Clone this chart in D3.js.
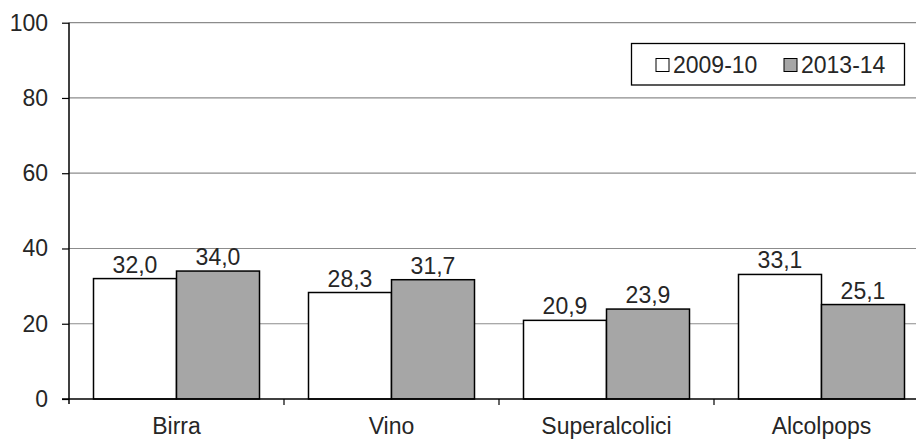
<!DOCTYPE html>
<html><head><meta charset="utf-8">
<script src="https://cdn.jsdelivr.net/npm/d3@7"></script>
<style>body{margin:0;background:#fff}svg{display:block;font-family:"Liberation Sans",Arial,sans-serif}</style>
</head><body><svg id="c" width="916" height="439"></svg>
<script>
const categories = ["Birra","Vino","Superalcolici","Alcolpops"];
const seriesNames = ["2009-10","2013-14"];
const values2009 = [32.0,28.3,20.9,33.1];
const values2013 = [34.0,31.7,23.9,25.1];
const yTicks = [0,20,40,60,80,100];
const colors = ["#ffffff","#a6a6a6"];

const svg = d3.select("#c");
const x0 = 69, x1 = 929, yTop = 22.7, yBot = 399;
const x = d3.scaleBand().domain(categories).range([x0,x1]).paddingInner(0).paddingOuter(0);
const inner = d3.scaleBand().domain(seriesNames).range([24.5, x.bandwidth()-24.5]);
const y = d3.scaleLinear().domain([0,100]).range([yBot,yTop]);
const fs = 23;
const tc = "#262626";

// gridlines
svg.append("g").selectAll("line").data(yTicks.filter(d=>d>0)).join("line")
  .attr("x1",x0).attr("x2",916).attr("y1",d=>y(d)).attr("y2",d=>y(d))
  .attr("stroke","#8c8c8c").attr("stroke-width",1.2);

// y axis
const yAxis = d3.axisLeft(y).tickValues(yTicks).tickSize(7).tickPadding(14);
const gy = svg.append("g").attr("transform",`translate(${x0},0)`).call(yAxis);
gy.select(".domain").remove();
gy.selectAll("line").attr("stroke","#000").attr("stroke-width",1.2);
gy.selectAll("text").attr("font-size",fs).attr("fill",tc).attr("font-family","Liberation Sans, Arial, sans-serif");
svg.append("line").attr("x1",x0).attr("x2",x0).attr("y1",yTop).attr("y2",yBot+5).attr("stroke","#000").attr("stroke-width",1.5);

// bars
const data = categories.map((c,i)=>({c, vals:[values2009[i],values2013[i]]}));
const groups = svg.append("g").selectAll("g").data(data).join("g")
  .attr("transform",d=>`translate(${x(d.c)},0)`);
groups.selectAll("rect").data(d=>d.vals.map((v,j)=>({v,s:seriesNames[j],j}))).join("rect")
  .attr("x",d=>inner(d.s)).attr("width",inner.bandwidth())
  .attr("y",d=>y(d.v)).attr("height",d=>yBot-y(d.v))
  .attr("fill",d=>colors[d.j]).attr("stroke","#000").attr("stroke-width",1.5);
groups.selectAll("text").data(d=>d.vals.map((v,j)=>({v,s:seriesNames[j],j}))).join("text")
  .attr("x",d=>inner(d.s)+inner.bandwidth()/2).attr("y",d=>y(d.v)-6)
  .attr("text-anchor","middle").attr("font-size",fs).attr("fill",tc)
  .text(d=>d3.format(".1f")(d.v).replace(".",","));

// x axis
const xAxis = d3.axisBottom(x).tickSize(0).tickPadding(0).tickFormat("");
const gx = svg.append("g").attr("transform",`translate(0,${yBot})`).call(xAxis);
gx.select(".domain").remove();
svg.append("line").attr("x1",x0-7).attr("x2",916).attr("y1",yBot).attr("y2",yBot).attr("stroke","#000").attr("stroke-width",1.5);
svg.append("g").selectAll("line").data(categories.slice(1)).join("line")
  .attr("x1",d=>x(d)).attr("x2",d=>x(d)).attr("y1",yBot).attr("y2",yBot+6)
  .attr("stroke","#000").attr("stroke-width",1.2);
svg.append("g").selectAll("text").data(categories).join("text")
  .attr("x",d=>x(d)+x.bandwidth()/2).attr("y",434)
  .attr("text-anchor","middle").attr("font-size",fs).attr("fill",tc).text(d=>d);

// legend
const lg = svg.append("g");
lg.append("rect").attr("x",631.5).attr("y",43.5).attr("width",273).attr("height",41.5)
  .attr("fill","#fff").attr("stroke","#000").attr("stroke-width",1.3);
const lx = [656,784];
seriesNames.forEach((s,i)=>{
  lg.append("rect").attr("x",lx[i]).attr("y",58.5).attr("width",13).attr("height",13)
    .attr("fill",colors[i]).attr("stroke","#000").attr("stroke-width",1);
  lg.append("text").attr("x",lx[i]+17).attr("y",73).attr("font-size",fs).attr("fill",tc).text(s);
});
</script></body></html>
